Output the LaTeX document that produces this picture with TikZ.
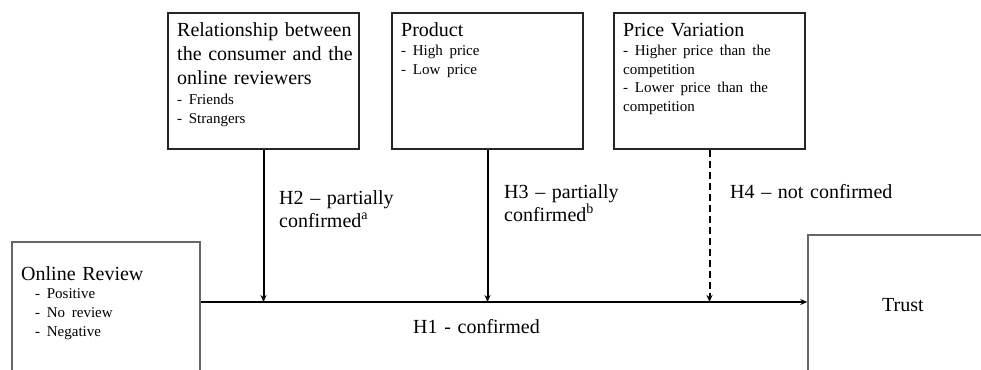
\documentclass[tikz,border=0pt]{standalone}
\usepackage{fontspec}
\setmainfont{Liberation Serif}
\usetikzlibrary{arrows.meta}
\begin{document}
\begin{tikzpicture}[x=1pt,y=-1pt,
  topbox/.style={draw=black!85, line width=1.1pt, inner sep=0pt},
  basebox/.style={draw=black!60, line width=1.5pt, inner sep=0pt},
  boxtext/.style={anchor=base west, inner sep=0pt, align=left, text width=186pt,
    font=\fontsize{20}{24}\selectfont},
  hyplabel/.style={anchor=base west, inner sep=0pt, align=left, text width=200pt,
    font=\fontsize{20}{23}\selectfont},
  arr/.style={line width=2pt, -{Stealth[length=7pt,width=6pt]}},
]
\useasboundingbox (0,0) rectangle (981,369);
\clip (0,0) rectangle (981,369);

% top boxes
\node[topbox, minimum width=191pt, minimum height=136pt] (rel) at (263.5,81) {};
\node[topbox, minimum width=191pt, minimum height=136pt] (prod) at (487.5,81) {};
\node[topbox, minimum width=191pt, minimum height=136pt] (price) at (709.5,81) {};

\node[boxtext] (reltext) at (177,37) {Relationship between\\the consumer and the\\online reviewers\par
  {\fontsize{15}{18.5}\selectfont\vspace{1.5pt}- Friends\\- Strangers\par}};
\node[boxtext] (prodtext) at (401,37) {Product\par
  {\fontsize{15}{18.5}\selectfont\vspace{0.5pt}- High price\\- Low price\par}};
\node[boxtext] (pricetext) at (623,37) {Price Variation\par
  {\fontsize{15}{18.5}\selectfont\vspace{0.5pt}- Higher price than the\\competition\\- Lower price than the\\competition\par}};

% bottom boxes
\node[basebox, minimum width=188pt, minimum height=158pt] (rev) at (106,321) {};
\node[basebox, minimum width=192pt, minimum height=165pt] (trust) at (904,317.5) {};

\node[boxtext] (revtext) at (21,280) {Online Review\par
  {\fontsize{15}{19}\selectfont\leftskip=14pt\vspace{-1pt}- Positive\\- No review\\- Negative\par}};
\node[anchor=base west, inner sep=0pt, font=\fontsize{20}{24}\selectfont] (trusttext) at (882,311) {Trust};

% connectors
\coordinate (h) at (0,302);
\draw[arr] (rev.east |- h) -- (trust.west |- h);
\draw[arr] (rel.south) -- (rel.south |- h);
\draw[arr] (prod.south) -- (prod.south |- h);
\draw[arr, dash pattern=on 7pt off 4pt] (price.south) -- (price.south |- h);

% labels
\node[hyplabel] (h2) at (279,204) {H2 – partially\\confirmed\textsuperscript{a}};
\node[hyplabel] (h3) at (504,198) {H3 – partially\\confirmed\textsuperscript{b}};
\node[hyplabel] (h4) at (730,198) {H4 – not confirmed};
\node[hyplabel] (h1) at (413,333) {H1 - confirmed};
\end{tikzpicture}
\end{document}
